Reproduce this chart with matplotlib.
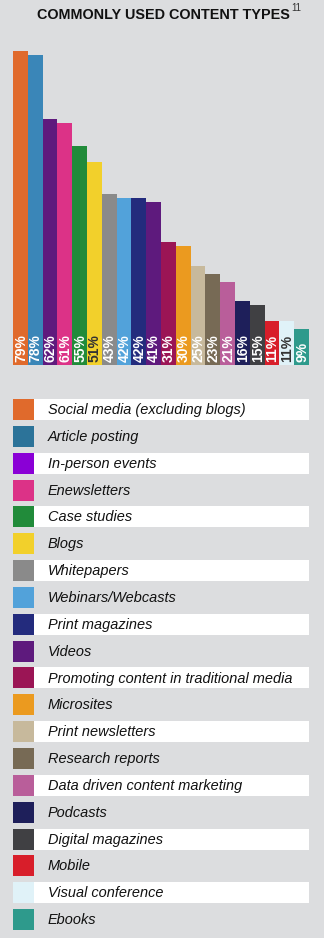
import matplotlib
matplotlib.use("Agg")
import matplotlib.pyplot as plt
from matplotlib.patches import Rectangle

categories = ["Social media (excluding blogs)", "Article posting", "In-person events",
              "Enewsletters", "Case studies", "Blogs", "Whitepapers", "Webinars/Webcasts",
              "Print magazines", "Videos", "Promoting content in traditional media",
              "Microsites", "Print newsletters", "Research reports",
              "Data driven content marketing", "Podcasts", "Digital magazines", "Mobile",
              "Visual conference", "Ebooks"]
values = [79, 78, 62, 61, 55, 51, 43, 42, 42, 41, 31, 30, 25, 23, 21, 16, 15, 11, 11, 9]
bar_colors = ["#e06a2c", "#3a86b8", "#5f1a7d", "#dc3287", "#218b3a", "#f2d02b", "#8a8a8a",
              "#52a2da", "#232b7d", "#5e1a7d", "#9b1555", "#eb9a1f", "#c7b99c", "#776a55",
              "#b95e9a", "#1e1f5a", "#404043", "#d81e2a", "#e0f2f8", "#2e9a8c"]
legend_colors = ["#e06a2c", "#2c7399", "#8a00d6", "#dc3287", "#218b3a", "#f2d02b", "#8a8a8a",
                 "#52a2da", "#232b7d", "#5e1a7d", "#9b1555", "#eb9a1f", "#c7b99c", "#776a55",
                 "#b95e9a", "#1e1f5a", "#404043", "#d81e2a", "#e0f2f8", "#2e9a8c"]
dark_label = ["Blogs", "Visual conference"]
title = "COMMONLY USED CONTENT TYPES"
footnote = "11"

BG = "#dcdddf"
W, H = 324, 938
fig = plt.figure(figsize=(W / 100, H / 100), dpi=100, facecolor=BG)
renderer = fig.canvas.get_renderer()


def fit_width(txt, target_px):
    """Scale font size so the text spans target_px horizontally."""
    bb = txt.get_window_extent(renderer=renderer)
    fs = txt.get_fontsize()
    txt.set_fontsize(fs * target_px / bb.width)


# Bar chart axes: x from 13 to 309 px, baseline at y=365, top at 51 (79%)
x0, x1 = 13, 309
y_base, y_top = 365, 51
ax = fig.add_axes([x0 / W, 1 - y_base / H, (x1 - x0) / W, (y_base - y_top) / H])
ax.set_facecolor(BG)
n = len(values)
ax.bar(range(n), values, width=1.0, color=bar_colors, linewidth=0)
ax.set_xlim(-0.5, n - 0.5)
ax.set_ylim(0, 79)
ax.axis("off")
for i, (v, c) in enumerate(zip(values, categories)):
    col = "#333333" if c in dark_label else "white"
    ax.text(i + 0.04, 0.7, f"{v}%", rotation=90, ha="center", va="bottom",
            color=col, fontsize=10, fontweight="bold",
            family=["Liberation Sans", "DejaVu Sans"])

# Title
t = fig.text(163 / W, 1 - 15 / H, title, ha="center", va="center",
             fontsize=19, fontweight="bold", color="#111111",
             family=["Liberation Sans", "DejaVu Sans"])
fit_width(t, 252)
fig.text(291 / W, 1 - 8 / H, footnote, ha="left", va="center",
         fontsize=7, color="#333333", family=["Liberation Sans", "DejaVu Sans"])

# Legend
lax = fig.add_axes([0, 0, 1, 1])
lax.set_xlim(0, W)
lax.set_ylim(H, 0)
lax.axis("off")
row0, pitch, sw = 399, 26.85, 21
texts = []
for i, (c, lc) in enumerate(zip(categories, legend_colors)):
    y = row0 + i * pitch
    if i % 2 == 0:
        lax.add_patch(Rectangle((34, y), 309 - 34, sw, facecolor="white", linewidth=0))
    lax.add_patch(Rectangle((13, y), 21, sw, facecolor=lc, linewidth=0))
    texts.append(lax.text(48, y + sw / 2 + 0.5, c, ha="left", va="center", fontsize=10.5,
                          style="italic", color="#111111",
                          family=["Liberation Sans", "DejaVu Sans"]))
# scale all legend texts so the longest one spans ~245 px
longest = max(texts, key=lambda tt: tt.get_window_extent(renderer=renderer).width)
w_long = longest.get_window_extent(renderer=renderer).width
scale = 245 / w_long
for tt in texts:
    tt.set_fontsize(tt.get_fontsize() * scale)

fig.savefig("out.png", dpi=100, facecolor=BG)
